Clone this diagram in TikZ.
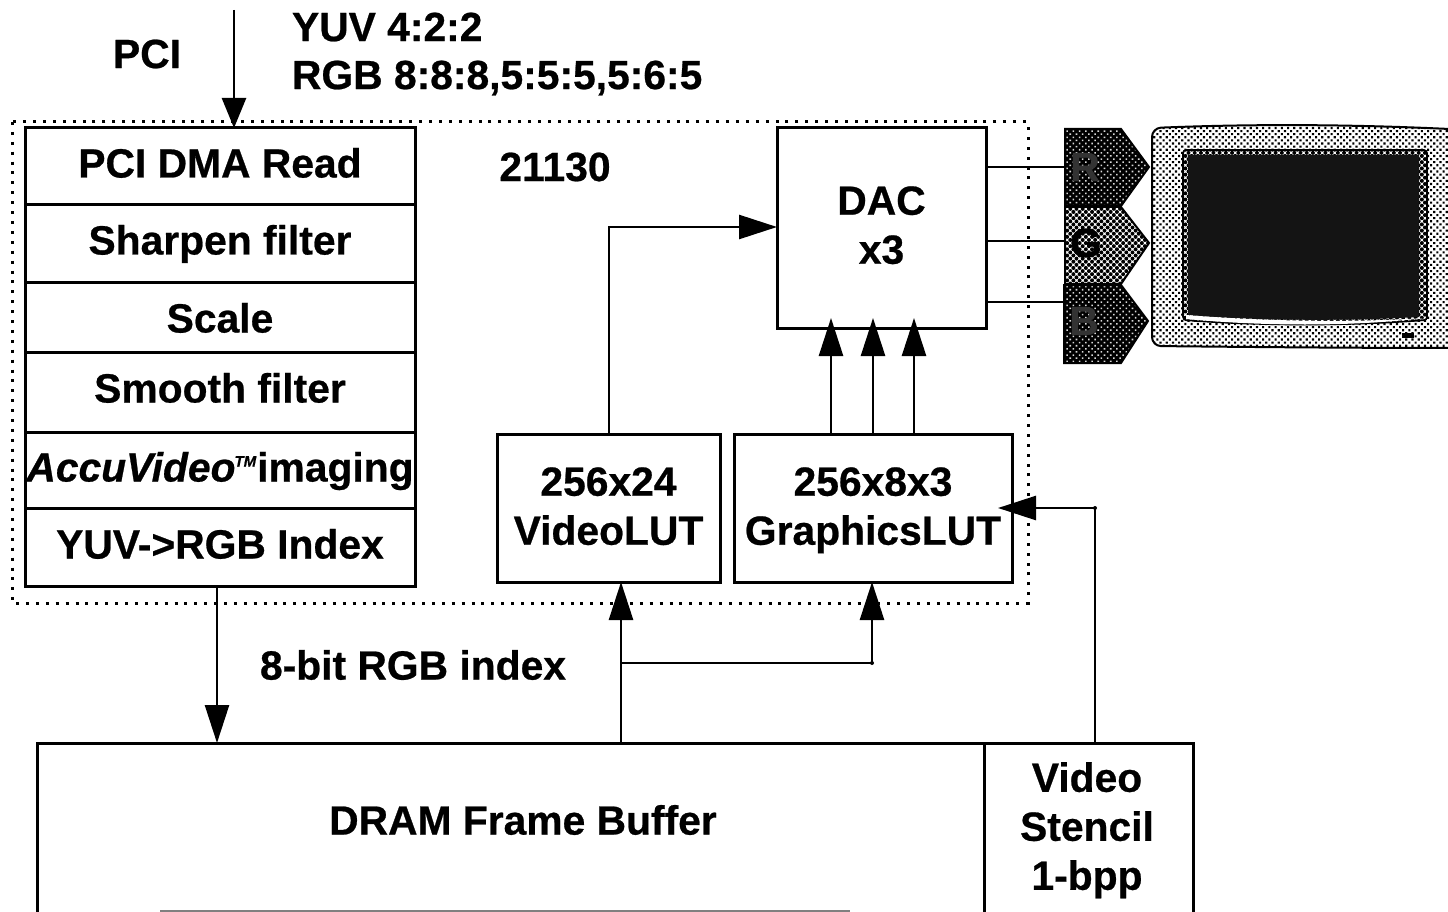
\documentclass[tikz,border=0pt]{standalone}
\usepackage{fontspec}
\setmainfont{Liberation Sans}[BoldFeatures={FakeBold=0.6},BoldItalicFeatures={FakeBold=0.6}]
\usetikzlibrary{arrows.meta,patterns.meta}
\tikzset{
  x=1pt,y=-1pt,
  lbl/.style={font=\fontsize{40.8}{49}\selectfont\bfseries,align=center,inner sep=0pt,outer sep=0pt},
  lblL/.style={lbl,anchor=west,align=left},
  box/.style={lbl,draw=black,line width=3pt,anchor=north west,minimum width=#1},
  base/.style={text height=#1,text depth=0pt},
  wire/.style={draw=black,line width=2.6pt},
  arr/.style={wire,-{Triangle[length=38pt,width=24pt]}},
  halfdark/.style={preaction={fill=black},pattern={Dots[radius=1.1pt,distance=4.4pt,angle=45]},pattern color=white!85!black},
  halfmid/.style={preaction={fill=white},pattern={Dots[radius=2pt,distance=4.4pt,angle=45]},pattern color=black},
  halflight/.style={preaction={fill=white},pattern={Dots[radius=1.5pt,distance=4.4pt,angle=45]},pattern color=black},
  wdot/.style={circle,fill=black,inner sep=0pt,minimum size=4pt},
}
\newcommand{\lowstrut}{\rule[-4pt]{0pt}{0pt}}
\begin{document}
\begin{tikzpicture}
\useasboundingbox (0,0) rectangle (1448,912);
\clip (0,0) rectangle (1448,912);
\fill[white] (0,0) rectangle (1448,912);

% chip outline
\draw[line width=3pt,dash pattern=on 3pt off 6.9pt] (12,122) rectangle (1028,603);

% pipeline stack
\node[box=390pt,minimum height=77pt,base=22pt] (dma) at (25,128) {PCI DMA Read};
\node[box=390pt,minimum height=77pt,base=22pt] (sharp) at (25,205) {Sharpen filter};
\node[box=390pt,minimum height=70pt,base=31pt] (scale) at (25,282) {Scale};
\node[box=390pt,minimum height=80pt,base=21pt] (smooth) at (25,352) {Smooth filter};
\node[box=390pt,minimum height=76pt,base=23pt] (accu) at (25,432) {\itshape Accu\kern-0.2pt Video\kern-1pt\raisebox{15pt}{\fontsize{15}{15}\selectfont TM}\upshape\kern1pt imaging};
\node[box=390pt,minimum height=78pt,base=23pt] (yuv) at (25,508) {YUV->RGB Index};

% right blocks
\node[box=209pt,minimum height=200pt] (dac) at (777,128) {DAC\\x3\rule[-6pt]{0pt}{0pt}};
\node[box=223pt,minimum height=148pt] (vlut) at (497,434) {256x24\\VideoLUT\lowstrut};
\node[box=278pt,minimum height=148pt] (glut) at (734,434) {256x8x3\\\smash{GraphicsLUT}\lowstrut};

% memory
\node[box=947pt,minimum height=200pt] (fb) at (37,743) {};
\node[box=209pt,minimum height=200pt] (sten) at (984,743) {};
\node[lbl] (fbl) at (523,820) {DRAM Frame Buffer};
\node[lbl] (stl) at (1087,826) {Video\\Stencil\\\smash{1-bpp}};
\draw[gray,line width=2pt] (160,911) -- (850,911);

% free labels
\node[lbl] (pcil) at (147,54) {PCI};
\node[lblL] (fmt1) at (292,27) {YUV 4:2:2};
\node[lblL] (fmt2) at (292,78) {RGB 8:8:8,5:5:5,5:6:5};
\node[lbl] (chip) at (555,167) {21130};
\node[lbl] (idx) at (413,665) {8-bit RGB index};

% RGB tags
\path[halfdark,draw=black,line width=2pt] (1065,129) -- (1121,129) -- (1149,167) -- (1121,206) -- (1065,206) -- cycle;
\path[halfmid,draw=black,line width=2pt] (1065,207) -- (1121,207) -- (1149,243) -- (1121,284) -- (1065,284) -- cycle;
\path[halfdark,draw=black,line width=2pt] (1064,285) -- (1121,285) -- (1148,321) -- (1121,363) -- (1064,363) -- cycle;
\node[lbl,text=black!80] (tr) at (1085,167) {R};
\node[lbl] (tg) at (1086,243) {G};
\node[lbl,text=black!80] (tb) at (1084,321) {B};
\coordinate (ri) at (1065,167);
\coordinate (gi) at (1065,241);
\coordinate (bi) at (1065,302);

% monitor
\path[halflight,draw=black,line width=2pt,rounded corners=9pt]
  (1152,128) .. controls (1250,124) and (1350,124) .. (1470,130) -- (1470,348)
  .. controls (1350,348) and (1250,347) .. (1152,346) -- cycle;
\path[halfmid,draw=black,line width=1.6pt,rounded corners=3pt] (1183,150) -- (1427,150) -- (1427,320) .. controls (1350,326) and (1260,326) .. (1183,320) -- cycle;
\fill[black!92] (1188,155) -- (1419,155) -- (1419,317) .. controls (1350,321) and (1260,321) .. (1188,315) -- cycle;
\fill[white] (1186,315) .. controls (1260,321) and (1350,323) .. (1424,318) .. controls (1350,327) and (1260,326) .. (1186,319) -- cycle;
\fill[black] (1402,333) rectangle (1414,338);

% connectors
\coordinate (pcit) at (234,10);
\coordinate (dn) at (217,700);
\coordinate (vup) at (609,300);
\coordinate (vhz) at (700,227);
\coordinate (g1) at (831,400);
\coordinate (g2) at (873,400);
\coordinate (g3) at (914,400);
\coordinate (fup) at (621,700);
\coordinate (jn) at (621,663);
\coordinate (jc) at (872,663);
\coordinate (su) at (1095,700);
\coordinate (sc) at (1095,508);
\draw[wire,-{Triangle[length=30pt,width=24pt]}] (pcit) -- (dma.north -| pcit);
\draw[arr] (yuv.south -| dn) -- (fb.north -| dn);
\draw[arr] (vlut.north -| vup) -- (vup |- vhz) -- (dac.west |- vhz);
\draw[arr,shorten >=-10pt] (glut.north -| g1) -- (dac.south -| g1);
\draw[arr,shorten >=-10pt] (glut.north -| g2) -- (dac.south -| g2);
\draw[arr,shorten >=-10pt] (glut.north -| g3) -- (dac.south -| g3);
\draw[arr] (fb.north -| fup) -- (vlut.south -| fup);
\draw[arr] (jn) -- (jc) -- (glut.south -| jc);
\draw[arr] (sten.north -| su) -- (sc) -- ([xshift=-14pt]glut.east |- sc);
\node[wdot] (d1) at (jc) {};
\node[wdot] (d2) at (sc) {};
\draw[wire] (dac.east |- ri) -- (ri);
\draw[wire] (dac.east |- gi) -- (gi);
\draw[wire] (dac.east |- bi) -- (bi);
\end{tikzpicture}
\end{document}
